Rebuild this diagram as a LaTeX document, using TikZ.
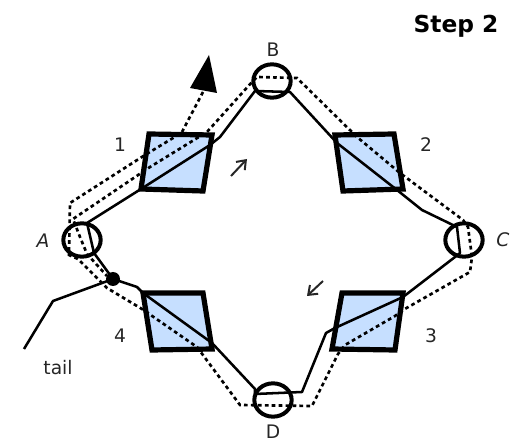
\documentclass[tikz,border=0pt]{standalone}
\usepackage{fontspec}
\setmainfont{DejaVu Sans}
\usetikzlibrary{shapes.geometric,arrows.meta}
\tikzset{
  x=0.75pt,y=-0.75pt,
  ring/.style={draw=black,ellipse,line width=3pt,inner sep=0pt,minimum width=28pt,minimum height=25pt,fill=none},
  coupler/.style={draw=black,fill=cplblue,line width=3.9pt,line join=miter},
  fibre/.style={draw=black,line width=1.9pt,line join=round},
  dotted fibre/.style={draw=black,line width=2pt,dash pattern=on 2.8pt off 2.4pt,line join=miter},
  lab/.style={font=\fontsize{14pt}{16pt}\selectfont,inner sep=0pt,text=black!85},
  dirn/.style={draw=black!85,line width=1.5pt,-{Straight Barb[length=6pt,width=9pt]}},
}
\definecolor{cplblue}{HTML}{C6DFFF}
\begin{document}
\begin{tikzpicture}
\useasboundingbox (0,0) rectangle (519,442);
\coordinate (s1a) at (149,134); \coordinate (s1b) at (212,135); \coordinate (s1c) at (203,191); \coordinate (s1d) at (141,189);
\coordinate (s2a) at (335,135); \coordinate (s2b) at (394,134); \coordinate (s2c) at (403,189); \coordinate (s2d) at (343,191);
\coordinate (s3a) at (342,293); \coordinate (s3b) at (403,293); \coordinate (s3c) at (395,350); \coordinate (s3d) at (332,349);
\coordinate (s4a) at (143,293); \coordinate (s4b) at (203,293); \coordinate (s4c) at (212,349); \coordinate (s4d) at (152,350);
\fill[cplblue] (s1a)--(s1b)--(s1c)--(s1d)--cycle;
\fill[cplblue] (s2a)--(s2b)--(s2c)--(s2d)--cycle;
\fill[cplblue] (s3a)--(s3b)--(s3c)--(s3d)--cycle;
\fill[cplblue] (s4a)--(s4b)--(s4c)--(s4d)--cycle;
\node[ring] (A) at (82,240) {};
\node[ring] (B) at (272,81) {};
\node[ring] (C) at (464,240) {};
\node[ring] (D) at (273,400) {};
\node[circle,fill=black,inner sep=0pt,minimum size=10.5pt] (dot) at (113,279) {};
\coordinate (tailend) at (24,349);
\coordinate (tailknee) at (53,301);
\coordinate (tip) at (209,55);
\coordinate (headl) at (190,88);
\coordinate (headr) at (217,93);
\coordinate (headm) at (203,92);
\draw[fibre] (tailend) -- (tailknee) -- (dot.center) -- (137,287) -- (s4a) -- (212,343) -- (255,389) -- (255,394)
  -- (302,392) -- (326,333) -- (335,328) -- (403,297) -- (455,257) -- (460,253) -- (457,227)
  -- (422,210) -- (397,190) -- (337,143) -- (290,92) -- (255,91) -- (220,137) -- (210,145)
  -- (s1d) -- (87,223) -- (94,253) -- (dot.center);
\draw[dotted fibre] (headm) -- (182,132) -- (173,138) -- (145,155) -- (70,203) -- (69,255) -- (78,259)
  -- (107,288) -- (142,309) -- (197,347) -- (240,405) -- (312,406) -- (338,354) -- (345,345)
  -- (395,316) -- (403,310) -- (470,272) -- (472,257) -- (468,227) -- (463,220) -- (400,173)
  -- (357,137) -- (297,78) -- (257,77) -- (252,82) -- (207,132) -- (150,167) -- (73,219)
  -- (80,237) -- (87,254) -- (107,276);
\fill[black] (tip) -- (headl) -- (headr) -- cycle;
\draw[coupler,fill=none] (s1a)--(s1b)--(s1c)--(s1d)--cycle;
\draw[coupler,fill=none] (s2a)--(s2b)--(s2c)--(s2d)--cycle;
\draw[coupler,fill=none] (s3a)--(s3b)--(s3c)--(s3d)--cycle;
\draw[coupler,fill=none] (s4a)--(s4b)--(s4c)--(s4d)--cycle;
\coordinate (u1) at (231,176); \coordinate (u2) at (247,159);
\coordinate (d1) at (323,281); \coordinate (d2) at (307,296);
\draw[dirn] (u1) -- (u2);
\draw[dirn] (d1) -- (d2);
\node[lab] (lB) at (273,50) {B};
\node[lab,font=\fontsize{14pt}{16pt}\selectfont\itshape] (lA) at (43,241) {A};
\node[lab,font=\fontsize{14pt}{16pt}\selectfont\itshape] (lC) at (503,240) {C};
\node[lab] (lD) at (273,432) {D};
\node[lab] (l1) at (120,145) {1};
\node[lab] (l2) at (426,145) {2};
\node[lab] (l3) at (431,336) {3};
\node[lab] (l4) at (120,336) {4};
\node[lab] (ltail) at (58,368) {tail};
\node[inner sep=0pt,font=\fontsize{17.5pt}{19pt}\selectfont\bfseries] (step) at (456,26) {Step 2};
\end{tikzpicture}
\end{document}
